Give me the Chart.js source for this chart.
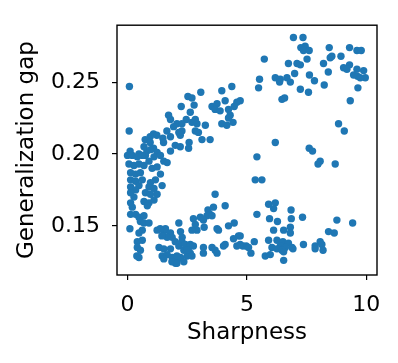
<!DOCTYPE html>
<html>
<head>
<meta charset="utf-8">
<script src="https://cdn.jsdelivr.net/npm/chart.js@4.4.0/dist/chart.umd.min.js"></script>
<style>
  html, body { margin: 0; padding: 0; background: #fff; }
</style>
</head>
<body>
<canvas id="chart" width="398" height="363"></canvas>
<script>
// [sharpness, generalization gap], grouped by region
const upperRight = [
  [6.95,0.281],[7.35,0.281],[7.26,0.274],[7.44,0.275],[7.37,0.272],[7.61,0.272],[7.52,0.266],[8.45,0.274],
  [9.30,0.274],[9.61,0.272],[9.79,0.272],[5.73,0.266],[8.49,0.267],[8.56,0.268],[8.94,0.268],[8.21,0.263],
  [6.74,0.263],[7.10,0.263],[7.24,0.262],[9.30,0.262],[9.05,0.260],[9.19,0.259],[9.61,0.259],[9.89,0.258],
  [9.47,0.255],[9.64,0.254],[9.96,0.253],[9.75,0.253],[8.41,0.257],[7.00,0.256],[7.62,0.255],[7.83,0.251],
  [5.53,0.252],[5.49,0.246],[6.19,0.253],[6.40,0.252],[6.68,0.253],[6.37,0.250],[6.82,0.250],[8.24,0.248],
  [7.24,0.245],[7.58,0.243],[9.65,0.246],[6.47,0.238],[6.58,0.239],[9.33,0.237],[4.72,0.237]
];
const middleRight = [
  [8.84,0.221],[9.08,0.216],[6.19,0.208],[7.61,0.204],[7.75,0.202],[5.42,0.198],[8.07,0.195],[7.98,0.193],
  [8.70,0.193],[5.35,0.182],[5.63,0.182]
];
const lowerRight = [
  [5.91,0.165],[6.19,0.166],[6.12,0.162],[5.42,0.158],[6.85,0.161],[5.95,0.155],[6.86,0.155],[7.33,0.156],
  [6.28,0.153],[8.77,0.154],[9.43,0.152],[6.82,0.149],[6.12,0.147],[6.54,0.147],[6.82,0.145],[8.42,0.146],
  [8.66,0.145],[4.72,0.143],[5.91,0.140],[6.26,0.140],[6.51,0.139],[6.74,0.138],[5.31,0.139],[4.83,0.136],
  [4.97,0.136],[6.05,0.135],[6.40,0.136],[6.61,0.135],[6.89,0.135],[7.37,0.137],[7.86,0.136],[8.07,0.139],
  [8.14,0.137],[7.86,0.134],[8.19,0.133],[6.26,0.134],[6.47,0.133],[6.93,0.134],[5.17,0.131],[5.77,0.129],
  [5.98,0.130],[6.54,0.132],[6.54,0.126],[4.72,0.137]
];
const upperLeft = [
  [0.08,0.247],[0.07,0.216],[3.07,0.243],[3.95,0.244],[4.37,0.247],[2.53,0.240],[2.70,0.239],[2.79,0.234],
  [2.25,0.233],[1.72,0.227],[3.54,0.233],[3.75,0.235],[4.09,0.237],[3.67,0.231],[3.88,0.230],[4.58,0.236],
  [4.47,0.233],[4.23,0.231],[4.30,0.227],[3.95,0.221],[4.16,0.220],[4.42,0.222],[4.23,0.225],[2.63,0.229],
  [2.46,0.224],[2.07,0.221],[2.28,0.221],[2.70,0.222],[2.91,0.221],[3.26,0.220],[1.93,0.219],[2.84,0.216],
  [2.97,0.215],[2.28,0.216],[1.65,0.216],[1.09,0.214],[1.23,0.213],[0.95,0.212],[0.74,0.210],[1.48,0.211],
  [2.21,0.213],[3.12,0.210],[3.46,0.210],[2.58,0.208],[1.51,0.208],[0.95,0.208],[0.81,0.202],[1.09,0.204],
  [2.00,0.206],[2.21,0.205],[0.11,0.202],[2.56,0.204],[2.84,0.224],[1.80,0.224],[1.80,0.212],[2.15,0.215],
  [0.69,0.205],[0.96,0.203],[1.24,0.201],[1.80,0.202],[0.48,0.200],[0.75,0.199]
];
const leftColumn = [
  [0.00,0.199],[0.20,0.199],[0.41,0.198],[0.62,0.199],[0.90,0.195],[1.11,0.198],[1.38,0.199],[1.52,0.195],
  [1.66,0.194],[0.06,0.193],[0.27,0.192],[0.48,0.193],[0.69,0.192],[1.03,0.190],[1.24,0.191],[1.38,0.186],
  [0.13,0.187],[0.34,0.186],[0.54,0.187],[0.13,0.182],[0.34,0.181],[0.62,0.182],[0.48,0.178],[1.17,0.182],
  [0.96,0.180],[1.45,0.178],[0.13,0.177],[0.34,0.175],[0.90,0.177],[1.11,0.176],[0.75,0.173],[0.96,0.172],
  [1.24,0.172],[0.13,0.173],[0.27,0.170],[0.69,0.167],[0.90,0.166],[1.11,0.168],[0.13,0.166],[0.20,0.163],
  [0.83,0.164],[0.13,0.158],[0.34,0.158],[0.48,0.156],[0.69,0.157],[0.54,0.153],[0.69,0.152],[0.90,0.152],
  [2.15,0.152],[0.10,0.148],[0.62,0.147],[0.48,0.145]
];
const lowerLeft = [
  [1.24,0.147],[1.52,0.146],[1.59,0.148],[1.80,0.145],[1.87,0.142],[2.22,0.146],[2.29,0.142],[1.66,0.142],
  [0.41,0.139],[0.62,0.140],[0.41,0.135],[0.54,0.133],[0.48,0.128],[1.32,0.135],[1.52,0.134],[1.80,0.134],
  [1.45,0.129],[1.66,0.130],[1.87,0.128],[2.15,0.136],[2.36,0.133],[2.08,0.126],[2.22,0.128],[2.36,0.125],
  [2.01,0.124],[2.50,0.129],[2.57,0.135],[1.52,0.127],[3.67,0.172],[4.09,0.164],[3.37,0.161],[3.46,0.158],
  [3.33,0.157],[2.76,0.155],[3.05,0.156],[3.18,0.154],[2.84,0.151],[2.91,0.147],[2.70,0.147],[3.21,0.149],
  [3.75,0.148],[4.23,0.150],[4.47,0.152],[4.65,0.143],[4.44,0.141],[4.09,0.137],[4.02,0.136],[4.58,0.136],
  [5.07,0.135],[1.37,0.148],[1.44,0.143],[2.00,0.139],[2.28,0.139],[2.42,0.137],[2.63,0.137],[2.76,0.136],
  [3.18,0.135],[3.18,0.131],[3.54,0.135],[3.67,0.133],[2.63,0.131],[2.70,0.129],[2.07,0.129],[1.86,0.125],
  [2.07,0.124],[0.39,0.129],[3.60,0.163],[3.54,0.157],[3.75,0.131],[2.49,0.133],[3.81,0.147]
];

const xTicks = [0, 5, 10];
const yTicks = [0.15, 0.20, 0.25];
const xLabel = 'Sharpness';
const yLabel = 'Generalization gap';

const allPoints = [].concat(upperRight, middleRight, lowerRight, upperLeft, leftColumn, lowerLeft)
  .map(p => ({x: p[0], y: p[1]}));

// black box round the plot, like matplotlib's spines
const frame = {
  id: 'frame',
  afterDraw(chart) {
    const a = chart.chartArea, c = chart.ctx;
    c.save();
    c.strokeStyle = '#000';
    c.lineWidth = 1.4;
    c.strokeRect(a.left, a.top, a.right - a.left, a.bottom - a.top);
    c.restore();
  }
};

const tickFont = {family: 'DejaVu Sans', size: 22};
const titleFont = {family: 'DejaVu Sans', size: 23};

new Chart(document.getElementById('chart'), {
  type: 'scatter',
  data: {
    datasets: [{
      data: allPoints,
      backgroundColor: '#1f77b4',
      borderWidth: 0,
      pointRadius: 3.7,
      pointHoverRadius: 3.7
    }]
  },
  options: {
    responsive: false,
    animation: false,
    layout: {padding: {top: 16, right: 21, left: 0, bottom: 0}},
    plugins: {legend: {display: false}, tooltip: {enabled: false}},
    scales: {
      x: {
        type: 'linear',
        min: -0.44,
        max: 10.45,
        afterBuildTicks: s => { s.ticks = xTicks.map(v => ({value: v})); },
        afterFit: s => { s.height = 88; },
        border: {display: false},
        grid: {display: true, drawOnChartArea: false, drawTicks: true, tickLength: 5, color: '#000', lineWidth: 1.2},
        ticks: {color: '#000', font: tickFont, padding: 12, maxRotation: 0, callback: v => String(v)},
        title: {display: true, text: xLabel, color: '#000', font: titleFont, padding: {top: 0, bottom: 16}}
      },
      y: {
        type: 'linear',
        min: 0.1158,
        max: 0.2896,
        afterBuildTicks: s => { s.ticks = yTicks.map(v => ({value: v})); },
        afterFit: s => { s.width = 117; },
        border: {display: false},
        grid: {display: true, drawOnChartArea: false, drawTicks: true, tickLength: 5, color: '#000', lineWidth: 1.2},
        ticks: {color: '#000', font: tickFont, padding: 12, callback: v => v.toFixed(2)},
        title: {display: true, text: yLabel, color: '#000', font: titleFont, padding: {top: 13, bottom: 0}}
      }
    }
  },
  plugins: [frame]
});
</script>
</body>
</html>
